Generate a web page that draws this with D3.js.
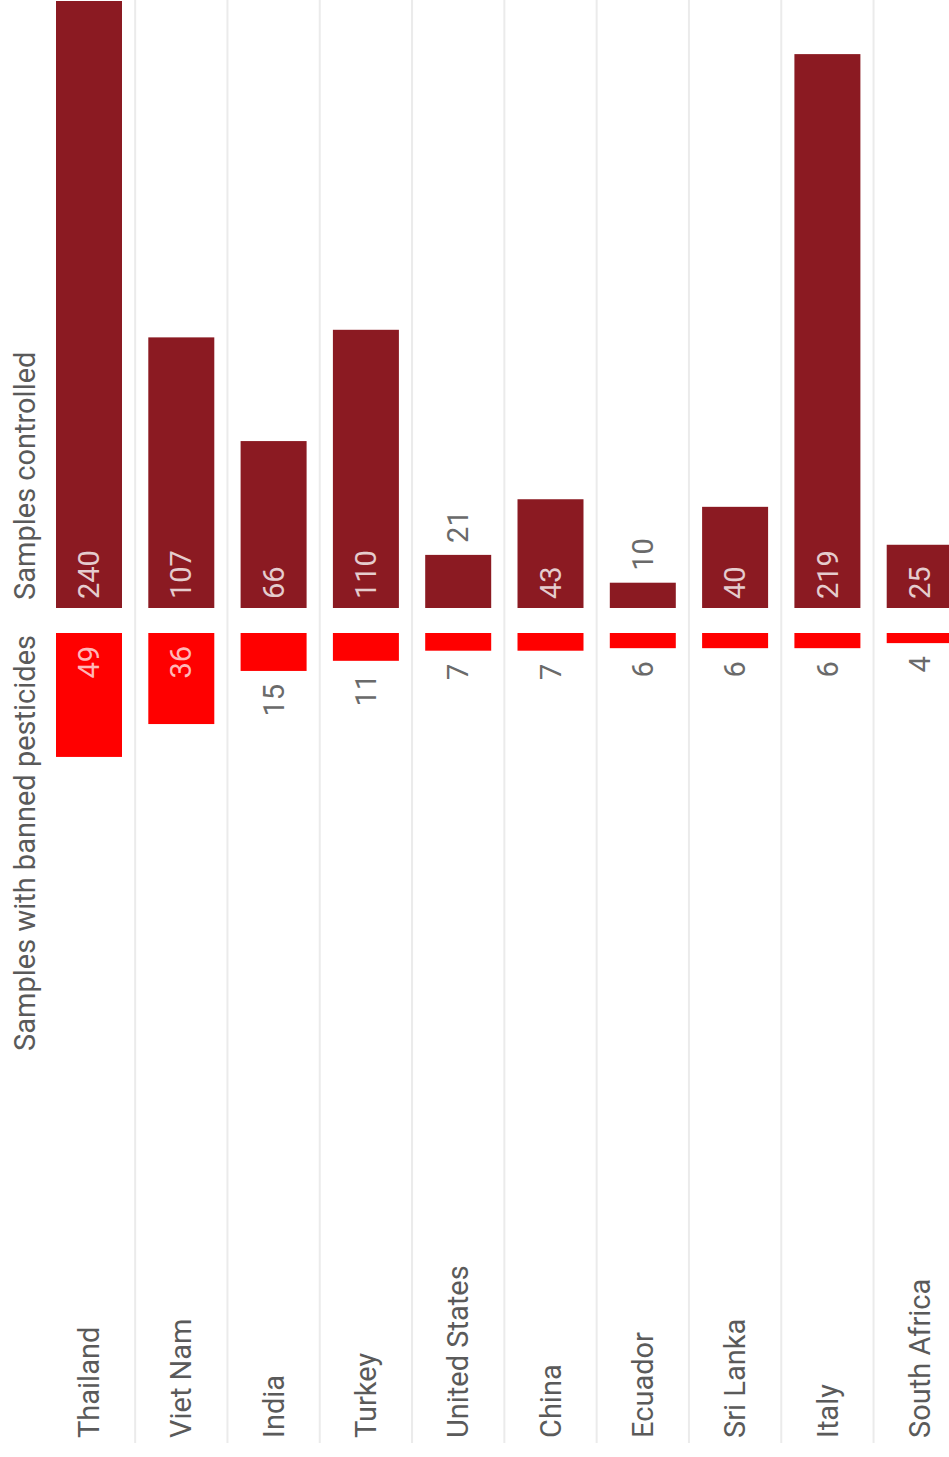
<!DOCTYPE html>
<html>
<head>
<meta charset="utf-8">
<script src="https://cdn.jsdelivr.net/npm/d3@7/dist/d3.min.js"></script>
<style>
  html, body { margin: 0; padding: 0; background: #fff; }
  svg { display: block; font-family: Roboto, "Noto Sans", sans-serif; }
</style>
</head>
<body>
<svg id="chart" width="949" height="1457"></svg>
<script>
// Countries, ordered by number of samples with banned pesticides
const countries = ["Thailand", "Viet Nam", "India", "Turkey", "United States",
                   "China", "Ecuador", "Sri Lanka", "Italy", "South Africa"];
const samplesControlled = [240, 107, 66, 110, 21, 43, 10, 40, 219, 25];
const samplesBanned = [49, 36, 15, 11, 7, 7, 6, 6, 6, 4];
const seriesTitles = ["Samples controlled", "Samples with banned pesticides"];

const W = 949, H = 1457;
const svg = d3.select("#chart");

const fontSize = 29;
const darkRed = "#8b1a22";
const brightRed = "#ff0000";
const textGrey = "#5a5a5a";

// Columns run left to right, one band per country
const n = countries.length;
const step = 92.3;
const x0 = 42.85;
const x = d3.scaleBand()
  .domain(countries)
  .range([x0, x0 + step * n])
  .paddingInner(0.285)
  .paddingOuter(0.1425);

// Two opposing value axes sharing one scale factor
const baseTop = 608, baseBottom = 633;
const yTop = d3.scaleLinear().domain([0, 240]).range([baseTop, 1]);
const yBottom = d3.scaleLinear().domain([0, 240]).range([baseBottom, baseBottom + (baseTop - 1)]);

// Column separators
svg.append("g")
  .selectAll("line")
  .data(d3.range(1, n))
  .join("line")
  .attr("x1", i => x0 + i * x.step())
  .attr("x2", i => x0 + i * x.step())
  .attr("y1", 0)
  .attr("y2", 1443)
  .attr("stroke", "#ebebeb")
  .attr("stroke-width", 2);

const rows = countries.map((c, i) => ({ country: c, controlled: samplesControlled[i], banned: samplesBanned[i] }));

// Upper bars: samples controlled
svg.append("g")
  .selectAll("rect")
  .data(rows)
  .join("rect")
  .attr("x", d => x(d.country))
  .attr("width", x.bandwidth())
  .attr("y", d => yTop(d.controlled))
  .attr("height", d => baseTop - yTop(d.controlled))
  .attr("fill", darkRed);

// Lower bars: samples with banned pesticides
svg.append("g")
  .selectAll("rect")
  .data(rows)
  .join("rect")
  .attr("x", d => x(d.country))
  .attr("width", x.bandwidth())
  .attr("y", baseBottom)
  .attr("height", d => yBottom(d.banned) - baseBottom)
  .attr("fill", brightRed);

const rot = (px, py) => `translate(${px},${py}) rotate(-90)`;
const minInside = 60;

// Value labels for the upper bars
svg.append("g")
  .selectAll("text")
  .data(rows)
  .join("text")
  .attr("transform", d => {
    const len = baseTop - yTop(d.controlled);
    const cx = x(d.country) + x.bandwidth() / 2;
    return len >= minInside ? rot(cx, baseTop - 9) : rot(cx, yTop(d.controlled) - 12);
  })
  .attr("dy", "0.35em")
  .attr("text-anchor", "start")
  .attr("font-size", fontSize)
  .attr("fill", d => (baseTop - yTop(d.controlled)) >= minInside ? "rgba(255,255,255,0.78)" : "#6a6a6a")
  .text(d => d.controlled);

// Value labels for the lower bars
svg.append("g")
  .selectAll("text")
  .data(rows)
  .join("text")
  .attr("transform", d => {
    const len = yBottom(d.banned) - baseBottom;
    const cx = x(d.country) + x.bandwidth() / 2;
    return len >= minInside ? rot(cx, baseBottom + 13) : rot(cx, yBottom(d.banned) + 13);
  })
  .attr("dy", "0.35em")
  .attr("text-anchor", "end")
  .attr("font-size", fontSize)
  .attr("fill", d => (yBottom(d.banned) - baseBottom) >= minInside ? "rgba(255,255,255,0.72)" : "#6a6a6a")
  .text(d => d.banned);

// Country names
svg.append("g")
  .selectAll("text")
  .data(countries)
  .join("text")
  .attr("transform", d => rot(x(d) + x.bandwidth() / 2, 1438))
  .attr("dy", "0.35em")
  .attr("text-anchor", "start")
  .attr("font-size", fontSize)
  .attr("fill", textGrey)
  .text(d => d);

// Series titles beside each baseline
svg.append("text")
  .attr("transform", rot(35, baseTop - 8))
  .attr("text-anchor", "start")
  .attr("font-size", fontSize)
  .attr("fill", textGrey)
  .text(seriesTitles[0]);

svg.append("text")
  .attr("transform", rot(35, baseBottom + 2))
  .attr("text-anchor", "end")
  .attr("font-size", fontSize)
  .attr("fill", textGrey)
  .text(seriesTitles[1]);
</script>
</body>
</html>
